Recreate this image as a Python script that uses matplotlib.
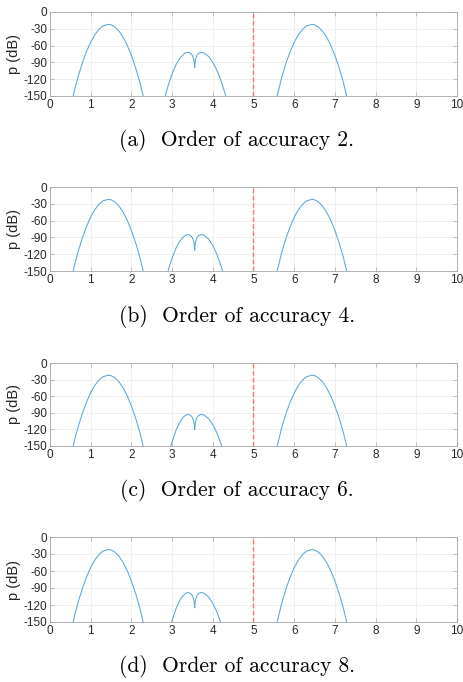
import matplotlib
matplotlib.use("Agg")
import matplotlib.pyplot as plt

# Side lobes (same in every panel)
x_lobe1 = [0.57, 0.6, 0.7, 0.8, 0.9, 1.0, 1.1, 1.2, 1.3, 1.43, 1.5, 1.6, 1.7, 1.8, 1.9, 2.0, 2.1, 2.2, 2.29]
p_lobe1 = [-150, -139.9, -113.2, -89.9, -70.1, -53.6, -40.6, -31.1, -24.9, -22, -22.8, -26.9, -34.5, -45.4, -59.8, -77.6, -98.8, -123.4, -150]
x_lobe3 = [5.58, 5.6, 5.7, 5.8, 5.9, 6.0, 6.1, 6.2, 6.3, 6.43, 6.5, 6.6, 6.7, 6.8, 6.9, 7.0, 7.1, 7.2, 7.29]
p_lobe3 = [-150, -144.5, -115.0, -91.0, -71.0, -54.2, -41.0, -31.3, -25.0, -22, -22.8, -26.9, -34.5, -45.4, -59.8, -77.6, -98.8, -123.4, -150]

# Middle lobe with notch, one per order of accuracy
x_mid_a = [2.83, 2.9, 3.0, 3.1, 3.2, 3.3, 3.35, 3.4, 3.45, 3.5, 3.53, 3.545, 3.555, 3.565, 3.58, 3.61, 3.66, 3.71, 3.76, 3.8, 3.9, 4.0, 4.1, 4.2, 4.3, 4.32]
p_mid_a = [-150, -132, -110.4, -93.6, -81.6, -74.4, -72.6, -72, -73.5, -77.5, -84, -90, -100, -90, -84, -77.5, -73.5, -72, -72.6, -73.7, -79.6, -89.7, -103.9, -122.4, -145.1, -150]
x_mid_b = [2.9, 3.0, 3.1, 3.2, 3.3, 3.35, 3.4, 3.45, 3.5, 3.53, 3.545, 3.555, 3.565, 3.58, 3.61, 3.66, 3.71, 3.76, 3.8, 3.9, 4.0, 4.1, 4.2, 4.24]
p_mid_b = [-150, -126.6, -108.4, -95.4, -87.6, -85.7, -85, -86.5, -90.5, -97, -103, -113, -103, -97, -90.5, -86.5, -85, -85.6, -86.9, -93.3, -104.4, -120.1, -140.5, -150]
x_mid_c = [2.97, 3.0, 3.1, 3.2, 3.3, 3.35, 3.4, 3.45, 3.5, 3.53, 3.545, 3.555, 3.565, 3.58, 3.61, 3.66, 3.71, 3.76, 3.8, 3.9, 4.0, 4.1, 4.2, 4.22]
p_mid_c = [-150, -142.3, -120.7, -105.3, -96.1, -93.8, -93, -94.5, -98.5, -105, -111, -120, -111, -105, -98.5, -94.5, -93, -93.5, -94.8, -100.9, -111.4, -126.3, -145.6, -150]
x_mid_d = [2.99, 3.0, 3.1, 3.2, 3.3, 3.35, 3.4, 3.45, 3.5, 3.53, 3.545, 3.555, 3.565, 3.58, 3.61, 3.66, 3.71, 3.76, 3.8, 3.9, 4.0, 4.1, 4.19]
p_mid_d = [-150, -147.4, -125.8, -110.4, -101.1, -98.8, -98, -99.5, -103.5, -110, -116, -125, -116, -110, -103.5, -99.5, -98, -98.6, -99.8, -106.2, -117, -132.4, -150]

captions = ["(a)  Order of accuracy 2.", "(b)  Order of accuracy 4.",
            "(c)  Order of accuracy 6.", "(d)  Order of accuracy 8."]
x_ticks = list(range(0, 11))
y_ticks = [-150, -120, -90, -60, -30, 0]
x_cutoff = 5

mids = [(x_mid_a, p_mid_a), (x_mid_b, p_mid_b), (x_mid_c, p_mid_c), (x_mid_d, p_mid_d)]

W, H = 464, 682
figure = plt.figure(figsize=(W / 100, H / 100), dpi=100)
figure.patch.set_facecolor('white')

# axes top/bottom in pixels, caption centre in pixels
panel_rows = [(12, 96, 141), (187, 271, 316), (363, 446, 491), (537, 622, 666)]
left, right = 50, 457

line_color = '#5aa6dc'
for (top, bottom, cap_y), (xm, pm), caption in zip(panel_rows, mids, captions):
    axes = figure.add_axes([left / W, 1 - bottom / H, (right - left) / W, (bottom - top) / H])

    axes.plot(x_lobe1, p_lobe1, color=line_color, lw=0.75, zorder=3)
    axes.plot(xm, pm, color=line_color, lw=0.75, zorder=3)
    axes.plot(x_lobe3, p_lobe3, color=line_color, lw=0.75, zorder=3)
    axes.axvline(x_cutoff, color='#ff7373', lw=1.0, ls=(0, (3.5, 1.6)), zorder=4)

    axes.set_xlim(0, 10)
    axes.set_ylim(-150, 0)
    axes.set_xticks(x_ticks)
    axes.set_yticks(y_ticks)
    axes.set_xticklabels([str(t) for t in x_ticks], family='Liberation Sans')
    axes.set_yticklabels([str(t) for t in y_ticks], family='Liberation Sans')
    axes.set_ylabel('p (dB)', family='Liberation Sans', fontsize=10.5, color='#262626', labelpad=2)

    # MATLAB-like box and grid
    axes.grid(True, color='#ececec', lw=0.6, zorder=0)
    axes.set_axisbelow(True)
    for spine in axes.spines.values():
        spine.set_color('#a6a6a6')
        spine.set_linewidth(0.6)
    axes.tick_params(direction='in', length=3, width=0.5, color='#a6a6a6',
                     labelsize=8.5, labelcolor='#262626', top=True, right=True, pad=2)

    figure.text(237 / W, 1 - cap_y / H, caption, family='cmr10', fontsize=15.5,
                ha='center', va='center', color='black')

figure.savefig('out.png', dpi=100)
